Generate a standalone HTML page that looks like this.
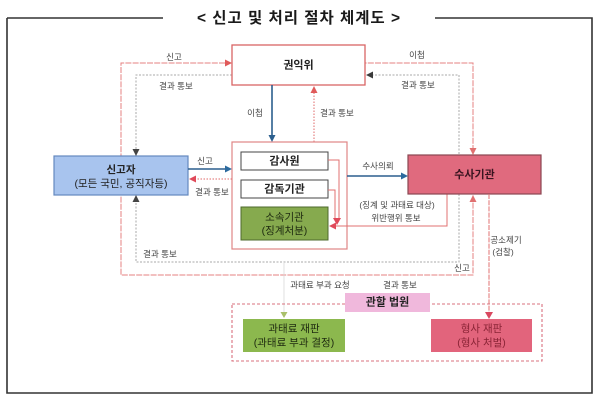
<!DOCTYPE html>
<html lang="ko">
<head>
<meta charset="utf-8">
<style>
  html,body{margin:0;padding:0;background:#fff;}
  body{width:600px;height:402px;overflow:hidden;}
  svg{display:block;}
  text{font-family:"Liberation Sans","Noto Sans CJK KR",sans-serif;dominant-baseline:central;text-anchor:middle;}
  .lb{font-size:8.5px;fill:#444;}
  .bx{font-size:11px;font-weight:bold;fill:#222;}
  .bt{font-size:10.5px;fill:#222;}
</style>
</head>
<body>
<svg width="600" height="402" viewBox="0 0 600 402" xmlns="http://www.w3.org/2000/svg">
  <rect x="0" y="0" width="600" height="402" fill="#fff"/>

  <!-- outer frame -->
  <path d="M7 18 H163 M435 18 H592 V393 H7 V18" fill="none" stroke="#333" stroke-width="1.6"/>
  <text x="298.5" y="18.5" textLength="203" lengthAdjust="spacing" style="font-size:15.5px;font-weight:bold;fill:#1a1a1a;">&lt; 신고 및 처리 절차 체계도 &gt;</text>

  <!-- big red loop -->
  <path d="M225 63 H121 V275 H473 V63 H365" fill="none" stroke="#e68080" stroke-width="1" stroke-dasharray="6 1.2"/>
  <!-- gray dashed loop -->
  <path d="M232 75 H136 V262 H459 V75 H372" fill="none" stroke="#a8a8a8" stroke-width="1" stroke-dasharray="2 1.5"/>

  <!-- 권익위 -->
  <rect x="232" y="45" width="133" height="40" fill="#fff" stroke="#d96565" stroke-width="1.3"/>
  <text class="bx" x="298.5" y="65.5">권익위</text>

  <!-- 이첩 blue down -->
  <line x1="272" y1="85" x2="272" y2="136" stroke="#2c5f8e" stroke-width="1.6"/>
  <!-- 결과 통보 red dotted up -->
  <line x1="314" y1="142" x2="314" y2="92" stroke="#e06a6a" stroke-width="1" stroke-dasharray="1.5 1.5"/>

  <!-- container -->
  <rect x="232" y="142" width="115" height="107" fill="#fff" stroke="#e08585" stroke-width="1.2"/>
  <rect x="241" y="152" width="87" height="18" fill="#fff" stroke="#444" stroke-width="1"/>
  <text class="bx" x="284.5" y="161.5">감사원</text>
  <rect x="241" y="180" width="87" height="18" fill="#fff" stroke="#444" stroke-width="1"/>
  <text class="bx" x="284.5" y="189.5">감독기관</text>
  <rect x="241" y="207" width="87" height="33" fill="#86aa4e" stroke="#4d6a2c" stroke-width="1"/>
  <text class="bt" x="284.5" y="217.5" style="fill:#1e2a10;">소속기관</text>
  <text class="bt" x="284.5" y="231" style="fill:#1e2a10;">(징계처분)</text>

  <!-- red lines from 감사원/감독기관 -->
  <path d="M328 160 H339 V219 M328 190 H335 V219" fill="none" stroke="#e07070" stroke-width="1"/>
  <polygon points="337,225 333,218 341,218" fill="#e04a5a"/>

  <!-- 위반행위 통보 -->
  <path d="M447 194 V226 H335" fill="none" stroke="#e07070" stroke-width="1"/>
  <polygon points="329,226 336,222.5 336,229.5" fill="#e04a5a"/>

  <!-- 신고자 -->
  <rect x="54" y="156" width="134" height="39" fill="#a8c4ee" stroke="#6488bf" stroke-width="1.2"/>
  <text x="121" y="170" style="font-size:10.5px;fill:#222;font-weight:bold;">신고자</text>
  <text x="121" y="184" style="font-size:10.5px;fill:#222;">(모든 국민, 공직자등)</text>

  <!-- 신고 blue right -->
  <line x1="188" y1="169" x2="226" y2="169" stroke="#2c5f8e" stroke-width="1.5"/>
  <polygon points="232,169 225,165.5 225,172.5" fill="#2c6a9e"/>
  <!-- 결과 통보 red dotted left -->
  <line x1="232" y1="179" x2="195" y2="179" stroke="#e06a6a" stroke-width="1" stroke-dasharray="1.5 1.5"/>
  <polygon points="189,179 196,175.5 196,182.5" fill="#e04a5a"/>

  <!-- 수사의뢰 blue right -->
  <line x1="347" y1="176" x2="402" y2="176" stroke="#2c5f8e" stroke-width="1.5"/>
  <polygon points="408,176 401,172.5 401,179.5" fill="#2c6a9e"/>

  <!-- 수사기관 -->
  <rect x="408" y="155" width="133" height="39" fill="#e06a7e" stroke="#8a4652" stroke-width="1.2"/>
  <text class="bx" x="474.5" y="175" style="fill:#3a1420;">수사기관</text>

  <!-- 공소제기 -->
  <line x1="489" y1="194" x2="489" y2="313" stroke="#e07070" stroke-width="1" stroke-dasharray="5 1.2"/>
  <polygon points="489,319 485,312 493,312" fill="#d94860"/>

  <!-- arrowheads on loops -->
  <polygon points="232,63 225,59.5 225,66.5" fill="#e05a5a"/>
  <polygon points="366,75 373,71.5 373,78.5" fill="#3a3a3a"/>
  <polygon points="272,142 268.5,135 275.5,135" fill="#2c5f8e"/>
  <polygon points="314,86 310.5,93 317.5,93" fill="#e05a5a"/>
  <polygon points="136,156 132.5,149 139.5,149" fill="#444"/>
  <polygon points="136,195 132.5,202 139.5,202" fill="#444"/>
  <polygon points="473,155 469.5,148 476.5,148" fill="#e07070"/>
  <polygon points="473,195 469.5,202 476.5,202" fill="#e07070"/>

  <!-- green faint line -->
  <line x1="284" y1="262" x2="284" y2="312" stroke="#d8d8d8" stroke-width="0.8"/>
  <polygon points="284,318 280.5,312 287.5,312" fill="#a9c06a"/>

  <!-- court dashed rect -->
  <rect x="232" y="304" width="310" height="57" fill="none" stroke="#d8707e" stroke-width="1.1" stroke-dasharray="3 2"/>
  <rect x="345" y="293" width="85" height="19" fill="#f0b8dc"/>
  <text class="bx" x="387.5" y="302.5" style="fill:#222;">관할 법원</text>

  <rect x="243" y="319" width="102" height="33" fill="#8cb84e"/>
  <text class="bt" x="294" y="329" style="fill:#1e2a10;">과태료 재판</text>
  <text class="bt" x="294" y="343" style="fill:#1e2a10;">(과태료 부과 결정)</text>

  <rect x="431" y="319" width="101" height="33" fill="#e2647c"/>
  <text class="bt" x="481.5" y="329" style="fill:#8a2436;">형사 재판</text>
  <text class="bt" x="481.5" y="343" style="fill:#8a2436;">(형사 처벌)</text>

  <!-- labels -->
  <text class="lb" x="174" y="57">신고</text>
  <text class="lb" x="176" y="86">결과 통보</text>
  <text class="lb" x="255" y="113">이첩</text>
  <text class="lb" x="337" y="113">결과 통보</text>
  <text class="lb" x="417" y="55">이첩</text>
  <text class="lb" x="418" y="85">결과 통보</text>
  <text class="lb" x="205" y="161">신고</text>
  <text class="lb" x="212" y="192">결과 통보</text>
  <text class="lb" x="378" y="166">수사의뢰</text>
  <text class="lb" x="397" y="205">(징계 및 과태료 대상)</text>
  <text class="lb" x="396" y="218">위반행위 통보</text>
  <text class="lb" x="160" y="254">결과 통보</text>
  <text class="lb" x="462" y="268">신고</text>
  <text class="lb" x="506" y="240">공소제기</text>
  <text class="lb" x="503" y="252">(검찰)</text>
  <text class="lb" x="320" y="285">과태료 부과 요청</text>
  <text class="lb" x="400" y="285">결과 통보</text>
</svg>
</body>
</html>
